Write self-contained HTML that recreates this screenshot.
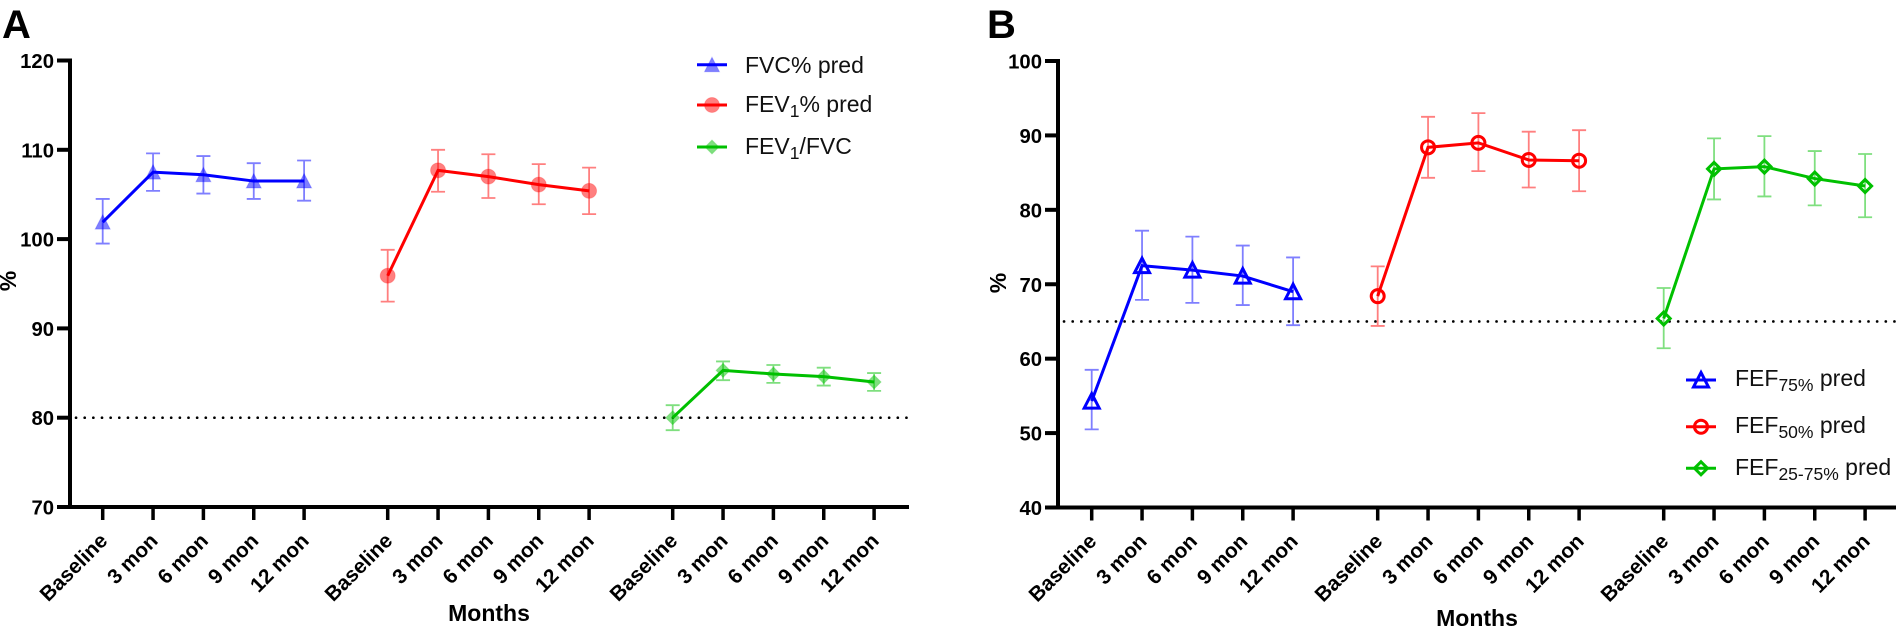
<!DOCTYPE html>
<html lang="en">
<head>
<meta charset="utf-8">
<title>Lung function over time</title>
<style>
html,body{margin:0;padding:0;background:#fff;}
body{width:1900px;height:628px;overflow:hidden;}
svg{display:block;font-family:"Liberation Sans",sans-serif;}
.tick{font-size:20.3px;font-weight:bold;fill:#000;}
.xtick{font-size:20.8px;font-weight:bold;fill:#000;}
.title{font-size:23px;font-weight:bold;fill:#000;}
.panel{font-size:40px;font-weight:bold;fill:#000;}
.leg{font-size:23px;fill:#111;}
.sub{font-size:17.5px;}
</style>
</head>
<body>
<svg id="figure" width="1900" height="628" viewBox="0 0 1900 628" xmlns="http://www.w3.org/2000/svg">
  <text class="panel" x="2" y="38">A</text>
  <text class="panel" x="987" y="38">B</text>

  <g id="chartA"></g>
  <g id="chartB"></g>

  <text class="title" x="489" y="621" text-anchor="middle">Months</text>
  <text class="title" x="1477" y="626" text-anchor="middle">Months</text>
  <text class="title" transform="translate(16,281) rotate(-90)" text-anchor="middle">%</text>
  <text class="title" transform="translate(1006,283) rotate(-90)" text-anchor="middle">%</text>

  <g>
    <g id="legA1"></g>
    <text class="leg" x="745" y="73">FVC% pred</text>
    <g id="legA2"></g>
    <text class="leg" x="745" y="112">FEV<tspan class="sub" dy="5">1</tspan><tspan dy="-5">% pred</tspan></text>
    <g id="legA3"></g>
    <text class="leg" x="745" y="154">FEV<tspan class="sub" dy="5">1</tspan><tspan dy="-5">/FVC</tspan></text>
  </g>
  <g>
    <g id="legB1"></g>
    <text class="leg" x="1735" y="386">FEF<tspan class="sub" dy="5">75%</tspan><tspan dy="-5"> pred</tspan></text>
    <g id="legB2"></g>
    <text class="leg" x="1735" y="433">FEF<tspan class="sub" dy="5">50%</tspan><tspan dy="-5"> pred</tspan></text>
    <g id="legB3"></g>
    <text class="leg" x="1735" y="475">FEF<tspan class="sub" dy="5">25-75%</tspan><tspan dy="-5"> pred</tspan></text>
  </g>
</svg>
<script>
const categories = ['Baseline', '3 mon', '6 mon', '9 mon', '12 mon'];
const yTicksA = [70, 80, 90, 100, 110, 120];
const yTicksB = [40, 50, 60, 70, 80, 90, 100];
const refLineA = 80;
const refLineB = 65;

const fvcMean = [101.9, 107.5, 107.2, 106.5, 106.5];
const fvcUpper = [104.5, 109.6, 109.3, 108.5, 108.8];
const fvcLower = [99.5, 105.4, 105.1, 104.5, 104.3];

const fev1Mean = [95.9, 107.7, 107.0, 106.1, 105.4];
const fev1Upper = [98.8, 110.0, 109.5, 108.4, 108.0];
const fev1Lower = [93.0, 105.3, 104.6, 103.9, 102.8];

const ratioMean = [80.0, 85.3, 84.9, 84.6, 84.0];
const ratioUpper = [81.4, 86.3, 85.9, 85.6, 85.0];
const ratioLower = [78.6, 84.2, 83.9, 83.6, 83.0];

const fef75Mean = [54.3, 72.5, 71.9, 71.1, 69.0];
const fef75Upper = [58.5, 77.2, 76.4, 75.2, 73.6];
const fef75Lower = [50.5, 67.9, 67.5, 67.2, 64.5];

const fef50Mean = [68.4, 88.4, 89.0, 86.7, 86.6];
const fef50Upper = [72.4, 92.5, 93.0, 90.5, 90.7];
const fef50Lower = [64.4, 84.3, 85.2, 83.0, 82.5];

const fef2575Mean = [65.4, 85.5, 85.8, 84.2, 83.2];
const fef2575Upper = [69.5, 89.6, 89.9, 87.9, 87.5];
const fef2575Lower = [61.4, 81.4, 81.8, 80.6, 79.0];

const NS = 'http://www.w3.org/2000/svg';
const BLUE = '#0000ff', RED = '#ff0000', GREEN = '#00c000';

function mk(parent, tag, attrs) {
  const el = document.createElementNS(NS, tag);
  for (const k in attrs) el.setAttribute(k, attrs[k]);
  parent.appendChild(el);
  return el;
}

function marker(parent, kind, cx, cy, color, open) {
  const style = open
    ? { fill: 'none', stroke: color, 'stroke-width': 3 }
    : { fill: color, 'fill-opacity': 0.5, stroke: color, 'stroke-opacity': 0.2, 'stroke-width': 1 };
  let el;
  if (kind === 'circle') {
    el = mk(parent, 'circle', Object.assign({ cx: cx, cy: cy, r: open ? 6.5 : 7.5 }, style));
  } else if (kind === 'triangle') {
    el = mk(parent, 'polygon', Object.assign({ points: `${cx},${cy - 7.5} ${cx + 7.5},${cy + 7} ${cx - 7.5},${cy + 7}` }, style));
  } else {
    const r = open ? 6.5 : 7;
    el = mk(parent, 'polygon', Object.assign({ points: `${cx},${cy - r} ${cx + r},${cy} ${cx},${cy + r} ${cx - r},${cy}` }, style));
  }
  
  
  return el;
}

function drawChart(root, cfg) {
  const yScale = v => cfg.y0 - (v - cfg.yMin) * (cfg.y0 - cfg.y1) / (cfg.yMax - cfg.yMin);
  const xScale = (g, i) => cfg.x0 + g * cfg.groupStep + i * cfg.step;

  const ref = mk(root, 'line', { x1: cfg.axisX + 6, x2: cfg.axisEnd, y1: yScale(cfg.ref), y2: yScale(cfg.ref), stroke: '#000', 'stroke-width': 2.6, 'stroke-linecap': 'round', 'stroke-dasharray': '0.1 8.55' });
  
  

  const yAxis = mk(root, 'line', { x1: cfg.axisX, x2: cfg.axisX, y1: yScale(cfg.yMax) - 2, y2: cfg.y0 + 2, stroke: '#000', 'stroke-width': 4 });
  
  
  const xAxis = mk(root, 'line', { x1: cfg.axisX, x2: cfg.axisEnd, y1: cfg.y0, y2: cfg.y0, stroke: '#000', 'stroke-width': 4 });
  
  

  cfg.yTicks.forEach(v => {
    const y = yScale(v);
    const t = mk(root, 'line', { x1: cfg.axisX - 13, x2: cfg.axisX, y1: y, y2: y, stroke: '#000', 'stroke-width': 4 });
    
    
    const l = mk(root, 'text', { class: 'tick', x: cfg.axisX - 16, y: y + 7.5, 'text-anchor': 'end' });
    l.textContent = v;
    
    
  });

  for (let g = 0; g < 3; g++) {
    categories.forEach((c, i) => {
      const x = xScale(g, i);
      const t = mk(root, 'line', { x1: x, x2: x, y1: cfg.y0, y2: cfg.y0 + 13, stroke: '#000', 'stroke-width': 3.5 });
      
      
      const l = mk(root, 'text', { class: 'xtick', 'text-anchor': 'end', transform: `translate(${x + 6},${cfg.y0 + 35}) rotate(-45)` });
      l.textContent = c;
      
      
    });
  }

  cfg.series.forEach((s, g) => {
    const grp = mk(root, 'g', {});
    
    
    s.mean.forEach((m, i) => {
      const x = xScale(g, i);
      const ya = yScale(s.upper[i]), yb = yScale(s.lower[i]);
      const bar = mk(grp, 'path', { d: `M${x - 7} ${ya}H${x + 7}M${x} ${ya}V${yb}M${x - 7} ${yb}H${x + 7}`, fill: 'none', stroke: s.color, 'stroke-opacity': 0.5, 'stroke-width': 1.8 });
      
      
    });
    s.mean.forEach((m, i) => marker(grp, s.kind, xScale(g, i), yScale(m), s.color, cfg.open));
    const line = mk(grp, 'polyline', { points: s.mean.map((m, i) => `${xScale(g, i)},${yScale(m)}`).join(' '), fill: 'none', stroke: s.color, 'stroke-width': 3 });
    
    
  });
}

drawChart(document.getElementById('chartA'), {
  x0: 102.7, step: 50.35, groupStep: 285, axisX: 70, axisEnd: 909,
  y0: 507, y1: 60.5, yMin: 70, yMax: 120, yTicks: yTicksA, ref: refLineA, open: false,
  series: [
    { name: 'series-fvc', color: BLUE, kind: 'triangle', mean: fvcMean, upper: fvcUpper, lower: fvcLower },
    { name: 'series-fev1', color: RED, kind: 'circle', mean: fev1Mean, upper: fev1Upper, lower: fev1Lower },
    { name: 'series-fev1-fvc', color: GREEN, kind: 'diamond', mean: ratioMean, upper: ratioUpper, lower: ratioLower }
  ]
});

drawChart(document.getElementById('chartB'), {
  x0: 1091.7, step: 50.35, groupStep: 286, axisX: 1058, axisEnd: 1896,
  y0: 507.5, y1: 61, yMin: 40, yMax: 100, yTicks: yTicksB, ref: refLineB, open: true,
  series: [
    { name: 'series-fef75', color: BLUE, kind: 'triangle', mean: fef75Mean, upper: fef75Upper, lower: fef75Lower },
    { name: 'series-fef50', color: RED, kind: 'circle', mean: fef50Mean, upper: fef50Upper, lower: fef50Lower },
    { name: 'series-fef25-75', color: GREEN, kind: 'diamond', mean: fef2575Mean, upper: fef2575Upper, lower: fef2575Lower }
  ]
});

function legend(id, x1, x2, y, color, kind, open) {
  const g = document.getElementById(id);
  marker(g, kind, (x1 + x2) / 2, y, color, open);
  const ln = mk(g, 'line', { x1: x1, x2: x2, y1: y, y2: y, stroke: color, 'stroke-width': 3 });
  
  
}
legend('legA1', 697, 727, 64.7, BLUE, 'triangle', false);
legend('legA2', 697, 727, 105, RED, 'circle', false);
legend('legA3', 697, 727, 147, GREEN, 'diamond', false);
legend('legB1', 1686, 1716, 380, BLUE, 'triangle', true);
legend('legB2', 1686, 1716, 426.7, RED, 'circle', true);
legend('legB3', 1686, 1716, 468.3, GREEN, 'diamond', true);
</script>
</body>
</html>
